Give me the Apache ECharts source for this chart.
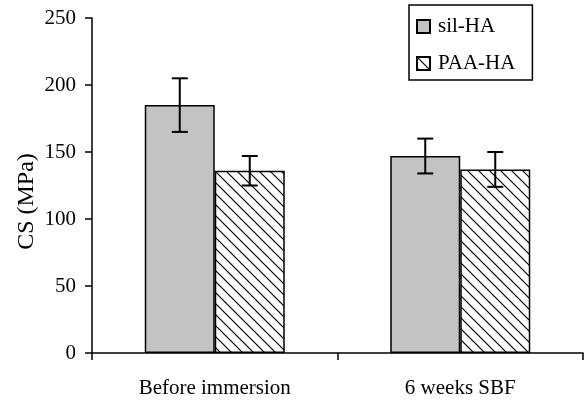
<!DOCTYPE html>
<html>
<head>
<meta charset="utf-8">
<script src="https://cdn.jsdelivr.net/npm/echarts@6/dist/echarts.min.js"></script>
<style>html,body{margin:0;padding:0;background:#fff;}#c{width:584px;height:401px;}</style>
</head>
<body>
<div id="c"></div>
<script>
const categories = ['Before immersion', '6 weeks SBF'];
const seriesNames = ['sil-HA', 'PAA-HA'];
const silHA = [185, 147];
const paaHA = [136, 137];
const silErr = [20, 13];
const paaErr = [11, 13];
const yTicks = { min: 0, max: 250, interval: 50 };

const FONT = 'Liberation Serif';
const BAR_W = 70;

function hatch() {
  const s = 11;
  const c = document.createElement('canvas');
  c.width = s; c.height = s;
  const g = c.getContext('2d');
  g.fillStyle = '#fff';
  g.fillRect(0, 0, s, s);
  g.strokeStyle = '#000';
  g.lineWidth = 1.2;
  for (const o of [-s, 0, s]) {
    g.beginPath();
    g.moveTo(o - 1, -1);
    g.lineTo(o + s + 1, s + 1);
    g.stroke();
  }
  return c;
}

function errSeries(vals, errs, offset) {
  return {
    type: 'custom',
    z: 5,
    data: vals.map((v, i) => [i, v - errs[i], v + errs[i]]),
    renderItem: function (params, api) {
      const x = api.coord([api.value(0), 0])[0] + offset;
      const yLo = api.coord([api.value(0), api.value(1)])[1];
      const yHi = api.coord([api.value(0), api.value(2)])[1];
      const cap = 8;
      const st = { stroke: '#000', lineWidth: 2 };
      return {
        type: 'group',
        children: [
          { type: 'line', shape: { x1: x, y1: yLo, x2: x, y2: yHi }, style: st },
          { type: 'line', shape: { x1: x - cap, y1: yHi, x2: x + cap, y2: yHi }, style: st },
          { type: 'line', shape: { x1: x - cap, y1: yLo, x2: x + cap, y2: yLo }, style: st }
        ]
      };
    }
  };
}

const chart = echarts.init(document.getElementById('c'), null, { renderer: 'canvas' });
chart.setOption({
  animation: false,
  backgroundColor: '#fff',
  textStyle: { fontFamily: FONT, color: '#000' },
  grid: { left: 92, right: 1, top: 18, bottom: 48, containLabel: false },
  legend: {
    data: seriesNames,
    orient: 'vertical',
    left: 409,
    top: 5,
    icon: 'rect',
    borderColor: '#000',
    borderWidth: 1.5,
    padding: [11, 17, 6, 7],
    itemGap: 16,
    itemWidth: 13,
    itemHeight: 13,
    textStyle: { fontFamily: FONT, fontSize: 21, color: '#000', padding: [0, 0, 0, 3] }
  },
  xAxis: {
    type: 'category',
    data: categories,
    axisLine: { lineStyle: { color: '#000', width: 1.5 } },
    axisTick: { show: true, length: 7, lineStyle: { color: '#000', width: 1.5 } },
    axisLabel: { fontFamily: FONT, fontSize: 21, color: '#000', margin: 25 }
  },
  yAxis: {
    type: 'value',
    min: yTicks.min, max: yTicks.max, interval: yTicks.interval,
    name: 'CS (MPa)',
    nameLocation: 'middle',
    nameGap: 53,
    nameMoveOverlap: false,
    nameTextStyle: { fontFamily: FONT, fontSize: 24, color: '#000', padding: [0, 32, 0, 0] },
    splitLine: { show: false },
    axisLine: { show: true, lineStyle: { color: '#000', width: 1.5 } },
    axisTick: { show: true, length: 7, lineStyle: { color: '#000', width: 1.5 } },
    axisLabel: { fontFamily: FONT, fontSize: 21, color: '#000', margin: 16 }
  },
  series: [
    {
      name: seriesNames[0], type: 'bar', data: silHA, barWidth: BAR_W, barGap: '0%',
      itemStyle: { color: '#c3c3c3', borderColor: '#000', borderWidth: 1.5 }
    },
    {
      name: seriesNames[1], type: 'bar', data: paaHA, barWidth: BAR_W, barGap: '0%',
      itemStyle: { color: { image: hatch(), repeat: 'repeat' }, borderColor: '#000', borderWidth: 1.5 }
    },
    errSeries(silHA, silErr, -BAR_W / 2),
    errSeries(paaHA, paaErr, BAR_W / 2)
  ]
});
</script>
</body>
</html>
